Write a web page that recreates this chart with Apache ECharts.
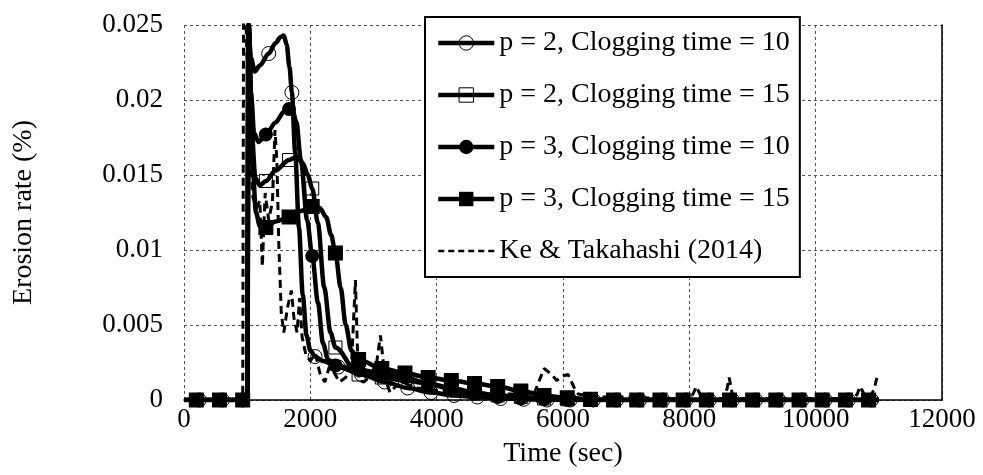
<!DOCTYPE html>
<html>
<head>
<meta charset="utf-8">
<script src="https://cdn.jsdelivr.net/npm/echarts@6/dist/echarts.min.js"></script>
<style>
  html, body { margin: 0; padding: 0; background: #fff; }
  #chart { width: 983px; height: 475px; }
</style>
</head>
<body>
<div id="chart"></div>
<script>
// Axis ticks
const xTicks = [0, 2000, 4000, 6000, 8000, 10000, 12000];
const yTicks = [0, 0.005, 0.01, 0.015, 0.02, 0.025];

// Series names
const seriesNames = [
  'p = 2, Clogging time = 10',
  'p = 2, Clogging time = 15',
  'p = 3, Clogging time = 10',
  'p = 3, Clogging time = 15',
  'Ke & Takahashi (2014)'
];

// p = 2, clogging time = 10 : sampled points (marked) and in-between bends
const p2c10Marks = [
  [240, 0], [607, 0], [929, 0], [1341, 0.0231], [1708, 0.0205], [2075, 0.0029],
  [2442, 0.0022], [2809, 0.0017], [3176, 0.0012], [3543, 0.0008], [3910, 0.0005],
  [4277, 0.0003], [4644, 0.0002], [5011, 0.0001], [5378, 0.00005], [5745, 0],
  [6112, 0], [6479, 0], [6846, 0], [7213, 0], [7580, 0], [7947, 0], [8314, 0],
  [8681, 0], [9048, 0], [9415, 0], [9782, 0], [10149, 0], [10516, 0], [10883, 0]
];
const p2c10Bends = [
  [0, 0], [1000, 0], [1015, 0.025], [1060, 0.0228], [1120, 0.0219], [1200, 0.0223],
  [1450, 0.0238], [1530, 0.0242], [1580, 0.0243], [1625, 0.0237], [1670, 0.0222],
  [1760, 0.0165], [1820, 0.0115], [1880, 0.007], [1940, 0.0043], [2000, 0.0033],
  [2200, 0.0026], [11000, 0]
];

// p = 2, clogging time = 15
const p2c15Marks = [
  [195, 0], [562, 0], [929, 0], [1296, 0.0146], [1663, 0.016], [2030, 0.0141],
  [2397, 0.0035], [2764, 0.0017], [3131, 0.0015], [3498, 0.0013], [3865, 0.0011],
  [4232, 0.0008], [4599, 0.0005], [4966, 0.0003], [5333, 0.0002], [5700, 0.0001],
  [6067, 0.00005], [6434, 0], [6801, 0], [7168, 0], [7535, 0], [7902, 0], [8269, 0],
  [8636, 0], [9003, 0], [9370, 0], [9737, 0], [10104, 0], [10471, 0], [10838, 0]
];
const p2c15Bends = [
  [0, 0], [1000, 0], [1025, 0.025], [1070, 0.018], [1130, 0.0148], [1200, 0.0143],
  [1450, 0.0153], [1780, 0.0162], [1880, 0.0158], [1960, 0.015],
  [2120, 0.0118], [2220, 0.0075], [2320, 0.0045], [11000, 0]
];

// p = 3, clogging time = 10
const p3c10Marks = [
  [195, 0], [562, 0], [929, 0], [1296, 0.0177], [1663, 0.0194], [2030, 0.0096],
  [2397, 0.0023], [2764, 0.002], [3131, 0.0018], [3498, 0.0015], [3865, 0.0011],
  [4232, 0.0007], [4599, 0.0004], [4966, 0.0002], [5333, 0.0001], [5700, 0.00005],
  [6067, 0], [6434, 0], [6801, 0], [7168, 0], [7535, 0], [7902, 0], [8269, 0],
  [8636, 0], [9003, 0], [9370, 0], [9737, 0], [10104, 0], [10471, 0], [10838, 0]
];
const p3c10Bends = [
  [0, 0], [1000, 0], [1020, 0.025], [1060, 0.0205], [1110, 0.0178], [1180, 0.0172],
  [1450, 0.0185], [1580, 0.0192], [1720, 0.0193], [1780, 0.0185], [1850, 0.016],
  [1950, 0.012], [2120, 0.0065], [2200, 0.0038], [2280, 0.0027], [11000, 0]
];

// p = 3, clogging time = 15
const p3c15Marks = [
  [195, 0], [562, 0], [929, 0], [1296, 0.0115], [1663, 0.0122], [2030, 0.0129],
  [2397, 0.0098], [2764, 0.0027], [3131, 0.0021], [3498, 0.0018], [3865, 0.0015],
  [4232, 0.0013], [4599, 0.0011], [4966, 0.0009], [5333, 0.0006], [5700, 0.0003],
  [6067, 0.00015], [6434, 0.00005], [6801, 0], [7168, 0], [7535, 0], [7902, 0],
  [8269, 0], [8636, 0], [9003, 0], [9370, 0], [9737, 0], [10104, 0], [10471, 0], [10838, 0]
];
const p3c15Bends = [
  [0, 0], [1000, 0], [1030, 0.025], [1080, 0.016], [1140, 0.0125], [1200, 0.0116],
  [1450, 0.0119], [1850, 0.0126], [2150, 0.0128], [2250, 0.0122], [2330, 0.011],
  [2480, 0.0075], [2560, 0.005], [2650, 0.0033], [11000, 0]
];

// Measured erosion rate, Ke & Takahashi (2014)
const keTakahashi = [
  [0, 0], [930, 0], [945, 0.03], [975, 0.03], [990, 0.024], [1040, 0.017], [1090, 0.0135],
  [1150, 0.0128], [1200, 0.0133], [1240, 0.0089], [1285, 0.0138], [1340, 0.012],
  [1400, 0.0132], [1440, 0.018], [1470, 0.016], [1500, 0.0105], [1540, 0.0058],
  [1580, 0.0045], [1640, 0.0062], [1700, 0.0073], [1740, 0.0055], [1790, 0.0045],
  [1830, 0.0068], [1870, 0.0042], [1930, 0.003], [2000, 0.0026], [2080, 0.0031],
  [2150, 0.0018], [2230, 0.0012], [2300, 0.0022], [2380, 0.0018], [2460, 0.0012],
  [2560, 0.0015], [2650, 0.0022], [2714, 0.008], [2745, 0.0035], [2770, 0.0013],
  [2850, 0.0012], [2950, 0.0016], [3050, 0.0025], [3110, 0.0043], [3180, 0.0015],
  [3260, 0.0005], [3350, 0.0009], [3500, 0.0011], [3700, 0.0008], [3900, 0.0007],
  [4100, 0.0006], [4400, 0.0005], [4700, 0.0004], [5000, 0.0004], [5300, 0.0004],
  [5550, 0.0005], [5700, 0.0021], [5820, 0.0017], [5900, 0.0013], [6000, 0.0016],
  [6080, 0.0017], [6180, 0.0008], [6240, 0.0004], [6500, 0.0002], [7000, 0.0002],
  [7500, 0.0001], [8000, 0.0001], [8060, 0.0004], [8110, 0.0009], [8180, 0.0003],
  [8300, 0.0001], [8550, 0.0001], [8600, 0.0008], [8630, 0.0015], [8680, 0.0004],
  [8800, 0.0001], [10600, 0.0001], [10660, 0.0004], [10700, 0.0009], [10780, 0.0003],
  [10870, 0.0002], [10930, 0.0008], [10970, 0.0015], [11000, 0.0016]
];

const FONT = 'Liberation Serif';
const MODEL_WIDTH = 4.5;

// Merge marked samples and bend points into one ordered line; only marked samples show a symbol
function buildLine(marks, bends, size) {
  const pts = marks.map(p => ({ p, mark: true }))
    .concat(bends.map(p => ({ p, mark: false })));
  pts.sort((a, b) => a.p[0] - b.p[0]);
  return pts.map(o => ({ value: o.p, symbolSize: o.mark ? size : 0 }));
}

const hollow = { color: 'rgba(255,255,255,0)', borderColor: '#000', borderWidth: 1 };
const solid = { color: '#000', borderColor: '#000', borderWidth: 0 };

function modelSeries(name, marks, bends, symbol, size, itemStyle) {
  return {
    name, type: 'line', data: buildLine(marks, bends, size),
    symbol, showSymbol: true, showAllSymbol: true,
    smooth: 0.3, smoothMonotone: 'x',
    lineStyle: { color: '#000', width: MODEL_WIDTH },
    itemStyle, emphasis: { disabled: true }, z: 3
  };
}

const modelLegendLine = { color: '#000', width: MODEL_WIDTH, type: 'solid' };

const chart = echarts.init(document.getElementById('chart'), null, { renderer: 'canvas' });

chart.setOption({
  animation: false,
  backgroundColor: '#fff',
  grid: { left: 184, right: 41, top: 25, bottom: 75, containLabel: false },
  xAxis: {
    type: 'value',
    min: xTicks[0], max: xTicks[xTicks.length - 1], interval: xTicks[1] - xTicks[0],
    name: 'Time (sec)', nameLocation: 'middle', nameGap: 40,
    nameTextStyle: { fontFamily: FONT, fontSize: 28, color: '#000' },
    axisLine: { show: true, onZero: false, lineStyle: { color: '#000', width: 1.5 } },
    axisTick: { show: false },
    axisLabel: { fontFamily: FONT, fontSize: 27, color: '#000', margin: 6, formatter: v => String(v) },
    splitLine: { show: true, lineStyle: { color: '#555', width: 1, type: [3, 3] } }
  },
  yAxis: [{
    type: 'value',
    min: yTicks[0], max: yTicks[yTicks.length - 1], interval: yTicks[1] - yTicks[0],
    name: 'Erosion rate (%)', nameLocation: 'middle', nameGap: 146,
    nameTextStyle: { fontFamily: FONT, fontSize: 28, color: '#000' },
    axisLine: { show: false },
    axisTick: { show: false },
    axisLabel: { fontFamily: FONT, fontSize: 27, color: '#000', margin: 21,
      formatter: v => String(yTicks[Math.round(v / (yTicks[1] - yTicks[0]))]) },
    splitLine: { show: true, lineStyle: { color: '#555', width: 1, type: [3, 3] } }
  }, {
    type: 'value', position: 'right',
    min: yTicks[0], max: yTicks[yTicks.length - 1], interval: yTicks[1] - yTicks[0],
    axisLine: { show: true, lineStyle: { color: '#000', width: 1.5 } },
    axisTick: { show: false }, axisLabel: { show: false }, splitLine: { show: false }
  }],
  legend: {
    orient: 'vertical', left: 425, top: 17,
    padding: [11, 10, 11, 11], itemGap: 22, itemWidth: 56, itemHeight: 18,
    backgroundColor: '#fff', borderColor: '#000', borderWidth: 2, borderRadius: 0,
    selectedMode: false,
    textStyle: { fontFamily: FONT, fontSize: 28, color: '#000', lineHeight: 30 },
    data: [
      { name: seriesNames[0], itemStyle: hollow, lineStyle: modelLegendLine },
      { name: seriesNames[1], itemStyle: hollow, lineStyle: modelLegendLine },
      { name: seriesNames[2], itemStyle: solid, lineStyle: modelLegendLine },
      { name: seriesNames[3], itemStyle: solid, lineStyle: modelLegendLine },
      { name: seriesNames[4], itemStyle: { color: 'rgba(0,0,0,0)', borderWidth: 0 },
        lineStyle: { color: '#000', width: 2.5, type: [6, 4] } }
    ]
  },
  series: [
    {
      name: seriesNames[4], type: 'line', data: keTakahashi,
      symbol: 'none', smooth: false,
      lineStyle: { color: '#000', width: 3, type: [8, 5] },
      itemStyle: { color: '#000' }, emphasis: { disabled: true }, z: 2
    },
    modelSeries(seriesNames[0], p2c10Marks, p2c10Bends, 'circle', 14, hollow),
    modelSeries(seriesNames[1], p2c15Marks, p2c15Bends, 'rect', 13, hollow),
    modelSeries(seriesNames[2], p3c10Marks, p3c10Bends, 'circle', 14, solid),
    modelSeries(seriesNames[3], p3c15Marks, p3c15Bends, 'rect', 15, solid)
  ]
});
</script>
</body>
</html>
